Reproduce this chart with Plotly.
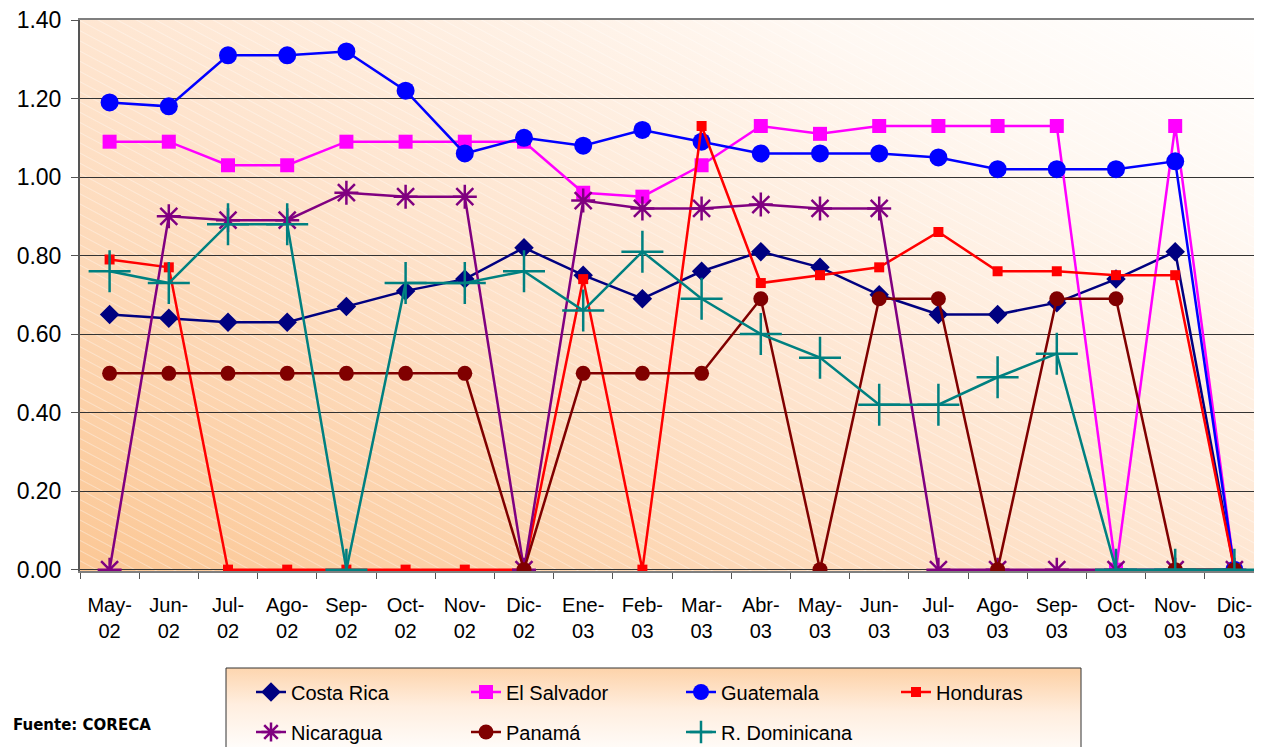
import base64
import plotly.graph_objects as go

months = ["May-<br>02", "Jun-<br>02", "Jul-<br>02", "Ago-<br>02", "Sep-<br>02", "Oct-<br>02", "Nov-<br>02",
          "Dic-<br>02", "Ene-<br>03", "Feb-<br>03", "Mar-<br>03", "Abr-<br>03", "May-<br>03", "Jun-<br>03",
          "Jul-<br>03", "Ago-<br>03", "Sep-<br>03", "Oct-<br>03", "Nov-<br>03", "Dic-<br>03"]

costa_rica = [0.65, 0.64, 0.63, 0.63, 0.67, 0.71, 0.74, 0.82, 0.75, 0.69, 0.76, 0.81, 0.77, 0.70, 0.65, 0.65, 0.68, 0.74, 0.81, 0.00]
el_salvador = [1.09, 1.09, 1.03, 1.03, 1.09, 1.09, 1.09, 1.09, 0.96, 0.95, 1.03, 1.13, 1.11, 1.13, 1.13, 1.13, 1.13, 0.00, 1.13, 0.00]
guatemala = [1.19, 1.18, 1.31, 1.31, 1.32, 1.22, 1.06, 1.10, 1.08, 1.12, 1.09, 1.06, 1.06, 1.06, 1.05, 1.02, 1.02, 1.02, 1.04, 0.00]
honduras = [0.79, 0.77, 0.00, 0.00, 0.00, 0.00, 0.00, 0.00, 0.74, 0.00, 1.13, 0.73, 0.75, 0.77, 0.86, 0.76, 0.76, 0.75, 0.75, 0.00]
nicaragua = [0.00, 0.90, 0.89, 0.89, 0.96, 0.95, 0.95, 0.00, 0.94, 0.92, 0.92, 0.93, 0.92, 0.92, 0.00, 0.00, 0.00, 0.00, 0.00, 0.00]
panama = [0.50, 0.50, 0.50, 0.50, 0.50, 0.50, 0.50, 0.00, 0.50, 0.50, 0.50, 0.69, 0.00, 0.69, 0.69, 0.00, 0.69, 0.69, 0.00, 0.00]
r_dominicana = [0.76, 0.73, 0.88, 0.88, 0.00, 0.73, 0.73, 0.76, 0.66, 0.81, 0.69, 0.60, 0.54, 0.42, 0.42, 0.49, 0.55, 0.00, 0.00, 0.00]

y_ticks = [0.0, 0.2, 0.4, 0.6, 0.8, 1.0, 1.2, 1.4]

W, H = 1262, 747
OFF = 8  # page body margin offset
# target plot box in screenshot pixels
PL, PR, PT, PB = 80, 1264, 20, 571
ML, MT = PL - OFF, PT - OFF
MR = max(0, W - (PR - OFF))
MB = H - (PB - OFF)
PW, PH = W - ML - MR, H - MT - MB


def px_x(px):
    return (px - OFF - ML) / PW


def px_y(py):
    return (MT + PH - (py - OFF)) / PH


def svg_uri(w, h, stops, x1, y1, x2, y2, hatch):
    st = "".join(f'<stop offset="{o}" stop-color="{c}"/>' for o, c in stops)
    pat = ""
    fill2 = ""
    if hatch:
        pat = ('<pattern id="p" width="10" height="9" patternUnits="userSpaceOnUse" patternTransform="rotate(28)">'
               '<line x1="0" y1="0.5" x2="10" y2="0.5" stroke="white" stroke-opacity="0.35" stroke-width="1"/></pattern>')
        fill2 = '<rect width="100%" height="100%" fill="url(#p)"/>'
    svg = (f'<svg xmlns="http://www.w3.org/2000/svg" width="{w}" height="{h}" viewBox="0 0 {w} {h}" '
           f'preserveAspectRatio="none"><defs><linearGradient id="g" x1="{x1}" y1="{y1}" x2="{x2}" y2="{y2}">{st}'
           f'</linearGradient>{pat}</defs><rect width="100%" height="100%" fill="url(#g)"/>{fill2}</svg>')
    return "data:image/svg+xml;base64," + base64.b64encode(svg.encode()).decode()


plot_bg = svg_uri(PW, PH, [(0, "#FBC795"), (0.45, "#FEE3CC"), (0.8, "#FFF8F2"), (1, "#FFFFFF")], 0, 1, 1, 0, True)
leg_bg = svg_uri(855, 85, [(0, "#FDD2A8"), (0.45, "#FFEEDF"), (1, "#FFFFFF")], 0.6, 0, 0.5, 1, False)

series = [
    ("Costa Rica", costa_rica, "#000080", "diamond", 15, 0, 1),
    ("El Salvador", el_salvador, "#FF00FF", "square", 14, 0, 1),
    ("Guatemala", guatemala, "#0000FF", "circle", 18, 0, 1),
    ("Honduras", honduras, "#FF0000", "square", 10, 0, 1),
    ("Nicaragua", nicaragua, "#800080", "asterisk-open", 20, 2.5, 2),
    ("Panamá", panama, "#800000", "circle", 15, 0, 2),
    ("R. Dominicana", r_dominicana, "#008080", "cross-thin-open", 30, 2.5, 2),
]

fig = go.Figure()
for name, vals, col, sym, size, lw, leg in series:
    fig.add_trace(go.Scatter(
        x=months, y=vals, name=name, mode="lines+markers",
        line=dict(color=col, width=2.5),
        marker=dict(symbol=sym, size=size, color=col, line=dict(color=col, width=lw)),
        legend="legend" if leg == 1 else "legend2",
    ))

leg_common = dict(orientation="h", xanchor="left", yanchor="middle", entrywidth=170, entrywidthmode="pixels",
                  bgcolor="rgba(0,0,0,0)", font=dict(family="Liberation Sans, Arial", size=20, color="#000"),
                  itemsizing="trace", tracegroupgap=0)

fig.update_layout(
    width=W, height=H,
    margin=dict(l=ML, r=MR, t=MT, b=MB, autoexpand=False),
    paper_bgcolor="white", plot_bgcolor="rgba(0,0,0,0)",
    font=dict(family="Liberation Sans, Arial", color="#000"),
    legend=dict(x=px_x(251), y=px_y(692), **leg_common),
    legend2=dict(x=px_x(251), y=px_y(732), **leg_common),
    xaxis=dict(type="category", range=[-0.5, len(months) - 0.5], showgrid=False, automargin=False,
               showline=True, linecolor="#7f7f7f", linewidth=2, mirror=True, layer="below traces",
               ticks="outside", tickson="boundaries", ticklen=6, tickcolor="#555", tickwidth=1,
               ticklabelstandoff=15, ticklabeloverflow="allow",
               tickfont=dict(size=20, family="Liberation Sans, Arial", color="#000")),
    yaxis=dict(range=[-0.0035, 1.4], tickvals=y_ticks, tickformat=".2f", showgrid=True, gridcolor="#333",
               gridwidth=1, showline=True, linecolor="#555", linewidth=2, zeroline=False, automargin=False,
               layer="below traces",
               ticks="outside", ticklen=7, tickcolor="#555", tickwidth=1, ticklabelstandoff=5,
               ticklabeloverflow="allow",
               tickfont=dict(size=23, family="Liberation Sans, Arial", color="#000")),
    images=[
        dict(source=plot_bg, xref="paper", yref="paper", x=0, y=1, sizex=1, sizey=1,
             sizing="stretch", layer="below", xanchor="left", yanchor="top"),
        dict(source=leg_bg, xref="paper", yref="paper", x=px_x(226), y=px_y(668),
             sizex=px_x(1081) - px_x(226), sizey=px_y(668) - px_y(760),
             sizing="stretch", layer="below", xanchor="left", yanchor="top"),
    ],
    shapes=[dict(type="rect", xref="paper", yref="paper", x0=px_x(226), x1=px_x(1081),
                 y0=px_y(760), y1=px_y(668), line=dict(color="#333", width=1), layer="below")],
    annotations=[dict(text="<b>Fuente: CORECA</b>", xref="paper", yref="paper", x=px_x(153), y=px_y(725),
                      xanchor="right", yanchor="middle", showarrow=False,
                      font=dict(family="DejaVu Sans", size=15, color="#000"))],
)

fig.write_html("out.html")
